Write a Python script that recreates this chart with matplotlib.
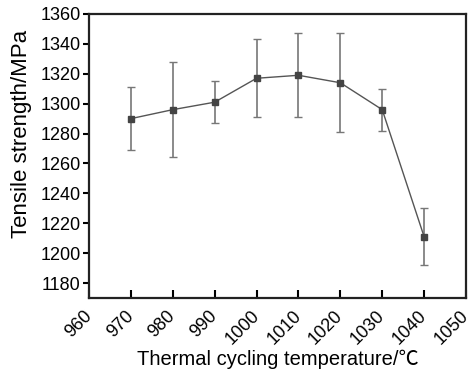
import matplotlib
matplotlib.use("Agg")
import matplotlib.pyplot as plt

# data
temps = [970, 980, 990, 1000, 1010, 1020, 1030, 1040]
strength = [1290, 1296, 1301, 1317, 1319, 1314, 1296, 1211]
err = [21, 32, 14, 26, 28, 33, 14, 19]

xticks = list(range(960, 1051, 10))
yticks = list(range(1180, 1361, 20))

plt.rcParams['font.family'] = ['Liberation Sans', 'Noto Sans CJK SC', 'DejaVu Sans']

fig = plt.figure(figsize=(4.73, 3.76), dpi=100)
ax = fig.add_axes([89 / 473, 1 - 298 / 376, 377 / 473, 284 / 376])

ax.errorbar(temps, strength, yerr=err, color='#555555', lw=1.0,
            marker='s', ms=5, mfc='#444444', mec='#444444',
            ecolor='#777777', elinewidth=1.2, capsize=3, capthick=1.0)

ax.set_xlim(960, 1050)
ax.set_ylim(1170, 1360)
ax.set_xticks(xticks)
ax.set_yticks(yticks)
ax.set_xticklabels([str(t) for t in xticks], rotation=45, ha='right', va='center',
                   rotation_mode='anchor', fontsize=13)
ax.set_yticklabels([str(t) for t in yticks], fontsize=13)

ax.tick_params(axis='x', direction='in', length=6, width=1.5, top=False, pad=11)
ax.tick_params(axis='y', direction='out', length=4, width=1.5, right=False, pad=2)

for s in ax.spines.values():
    s.set_linewidth(1.6)
    s.set_color('#222222')

ax.set_xlabel('Thermal cycling temperature/℃', fontsize=14.5)
ax.set_ylabel('Tensile strength/MPa', fontsize=16)
ax.xaxis.set_label_coords(0.5, -0.183)
ax.yaxis.set_label_coords(-0.152, 0.577)

fig.savefig('out.png', dpi=100)
